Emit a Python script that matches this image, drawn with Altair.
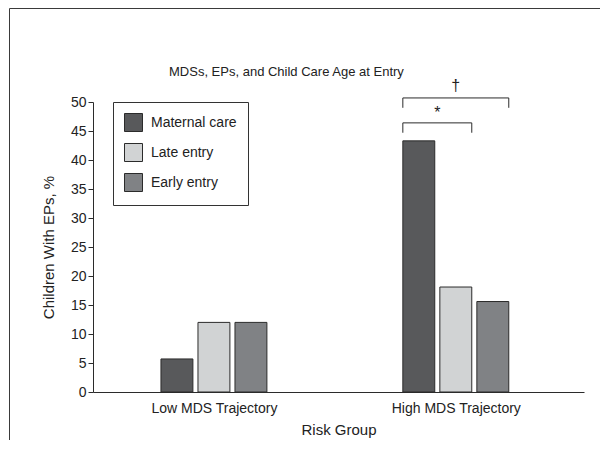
import json
import altair as alt
import pandas as pd

# ---- data ----
title_text = ["MDSs, EPs, and Child Care Age at Entry"]
groups = ["Low MDS Trajectory", "High MDS Trajectory"]
series = ["Maternal care", "Late entry", "Early entry"]
maternal = [5.7, 43.3]
late = [12.0, 18.1]
early = [12.0, 15.6]
colors = ["#58595b", "#d1d3d4", "#808285"]
y_ticks = list(range(0, 51, 5))

bracket_group = ["High MDS Trajectory", "High MDS Trajectory"]
bracket_from = ["Maternal care", "Maternal care"]
bracket_to = ["Early entry", "Late entry"]
bracket_top = [50.7, 46.4]
bracket_bottom = [49.0, 44.7]
bracket_symbol = ["\u2020", "*"]
bracket_symbol_y = [52.8, 48.1]

# ---- layout / style ----
STEP = 0.153   # distance between bar centres (x units)
HALF = 0.066   # half a bar width (x units)
XMAX = 2.03
FONT = "Liberation Sans"
INK = "#2b2b2b"
TXT = "#222222"

vals = [maternal, late, early]
rows = []
for gi, g in enumerate(groups):
    for si, s in enumerate(series):
        rows.append({"group": g, "series": s, "value": vals[si][gi], "gi": gi, "si": si})
bars_df = pd.DataFrame(rows)

br_df = pd.DataFrame({
    "group": bracket_group,
    "from": bracket_from,
    "to": bracket_to,
    "top": bracket_top,
    "bottom": bracket_bottom,
    "symbol": bracket_symbol,
    "sy": bracket_symbol_y,
})
br_df["gi"] = [groups.index(g) for g in br_df["group"]]
br_df["fi"] = [series.index(s) for s in br_df["from"]]
br_df["ti"] = [series.index(s) for s in br_df["to"]]

xscale = alt.Scale(domain=[0, XMAX], nice=False, zero=False)
yscale = alt.Scale(domain=[0, 50], nice=False)

label_expr = json.dumps(groups) + "[floor(datum.value)]"

x_axis = alt.Axis(values=[0.5, 1.5], labelExpr=label_expr, ticks=False, grid=False,
                  domainColor=INK, labelFont=FONT, labelFontSize=14, labelColor=TXT,
                  labelPadding=9, title="Risk Group", titleFont=FONT, titleFontSize=15,
                  titleFontWeight="normal", titleColor=TXT, titlePadding=7)
y_axis = alt.Axis(values=y_ticks, tickSize=5, tickColor=INK, domainColor=INK, grid=False,
                  labelOverlap=False,
                  labelFont=FONT, labelFontSize=14, labelColor=TXT, labelPadding=2,
                  title="Children With EPs, %", titleFont=FONT, titleFontSize=15,
                  titleFontWeight="normal", titleColor=TXT, titlePadding=14)

bars = alt.Chart(bars_df).transform_calculate(
    x0=f"datum.gi + 0.5 + (datum.si - 1) * {STEP} - {HALF}",
    x1=f"datum.gi + 0.5 + (datum.si - 1) * {STEP} + {HALF}",
).mark_bar(stroke=INK, strokeWidth=1).encode(
    x=alt.X("x0:Q", scale=xscale, axis=x_axis),
    x2="x1:Q",
    y=alt.Y("value:Q", scale=yscale, axis=y_axis),
    y2=alt.datum(0),
    color=alt.Color("series:N", scale=alt.Scale(domain=series, range=colors),
                    legend=alt.Legend(title=None, orient="none", legendX=20, legendY=0,
                                      symbolType="square", symbolSize=324,
                                      symbolStrokeColor=INK, symbolStrokeWidth=1,
                                      symbolOpacity=1,
                                      labelFont=FONT, labelFontSize=14, labelColor=TXT,
                                      labelOffset=8, rowPadding=7, padding=11,
                                      strokeColor="#333", fillColor="white")),
)

br_base = alt.Chart(br_df).transform_calculate(
    xl=f"datum.gi + 0.5 + (datum.fi - 1) * {STEP} - {HALF}",
    xr=f"datum.gi + 0.5 + (datum.ti - 1) * {STEP} + {HALF}",
).transform_calculate(
    xm="(datum.xl + datum.xr) / 2"
)

br_h = br_base.mark_rule(color=INK, strokeWidth=1).encode(
    x=alt.X("xl:Q", scale=xscale, axis=x_axis), x2="xr:Q",
    y=alt.Y("top:Q", scale=yscale, axis=y_axis))
br_l = br_base.mark_rule(color=INK, strokeWidth=1).encode(
    x=alt.X("xl:Q", scale=xscale, axis=x_axis),
    y=alt.Y("top:Q", scale=yscale, axis=y_axis), y2="bottom:Q")
br_r = br_base.mark_rule(color=INK, strokeWidth=1).encode(
    x=alt.X("xr:Q", scale=xscale, axis=x_axis),
    y=alt.Y("top:Q", scale=yscale, axis=y_axis), y2="bottom:Q")
br_t = br_base.mark_text(font=FONT, fontSize=16, color=TXT, baseline="middle").encode(
    x=alt.X("xm:Q", scale=xscale, axis=x_axis),
    y=alt.Y("sy:Q", scale=yscale, axis=y_axis), text="symbol:N")

# decorative figure frame (top and left edges; the rest lies beyond the page)
frame_df = pd.DataFrame({"a": [0]})
frame_top = alt.Chart(frame_df).mark_rule(color="#3a3a3a", strokeWidth=1).encode(
    x=alt.value(-83.5), x2=alt.value(520), y=alt.value(-93.5))
frame_left = alt.Chart(frame_df).mark_rule(color="#3a3a3a", strokeWidth=1).encode(
    x=alt.value(-83.5), y=alt.value(-93.5), y2=alt.value(400))

title = alt.Chart(pd.DataFrame({"t": title_text})).mark_text(
    font=FONT, fontSize=13, color=TXT, align="left", baseline="alphabetic"
).encode(x=alt.value(76), y=alt.value(-26), text="t:N")

chart = alt.layer(frame_top, frame_left, bars, br_h, br_l, br_r, br_t, title).properties(
    width=491, height=290,
    autosize=alt.AutoSizeParams(type="none"),
    padding={"left": 85, "top": 94, "right": 16, "bottom": 48},
).configure_view(stroke=None)

chart.save("out.html", embed_options={"renderer": "svg", "actions": False})
